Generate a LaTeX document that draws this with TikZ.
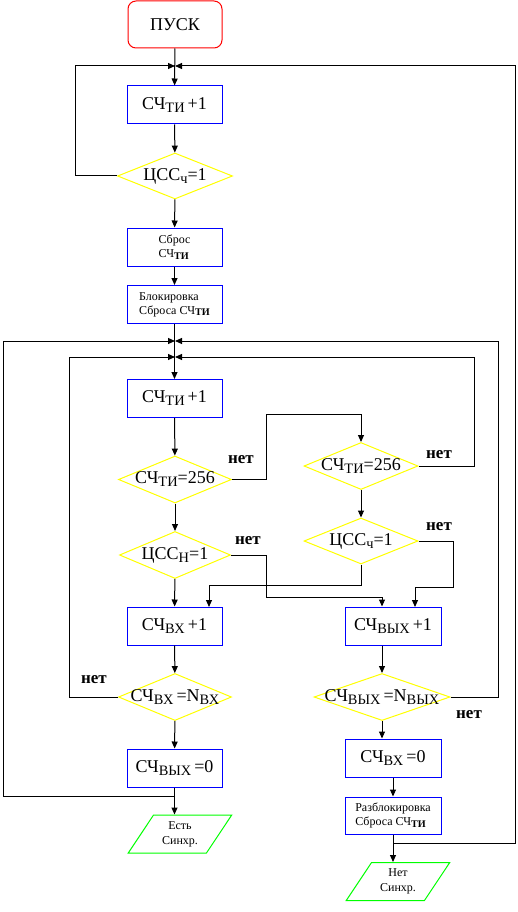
\documentclass[tikz,border=0pt]{standalone}
\usepackage{fontspec}
\setmainfont{Liberation Serif}
\usetikzlibrary{shapes.geometric,arrows.meta}
\newcommand\sbs[1]{\raisebox{-3pt}{\scalebox{0.8}{#1}}}
\newcommand\ssbs[1]{\raisebox{-1.5pt}{\scalebox{0.85}{\bfseries #1}}}
\definecolor{ublue}{RGB}{0,0,255}
\definecolor{ured}{RGB}{255,0,0}
\definecolor{uyellow}{RGB}{255,255,0}
\definecolor{ugreen}{RGB}{0,255,0}
\begin{document}
\begin{tikzpicture}[x=1pt,y=-1pt,
  font=\fontsize{18}{21}\selectfont,
  startbox/.style={draw=ured, line width=1pt, rounded corners=8pt, minimum width=94pt, minimum height=47pt, inner sep=0pt},
  proc/.style={draw=ublue, line width=1pt, minimum width=95pt, minimum height=38pt, inner sep=0pt},
  smallproc/.style={proc, font=\fontsize{12}{14}\selectfont, align=left},
  dec/.style={shape=diamond, draw=uyellow, line width=1pt, inner sep=0pt},
  io/.style={shape=trapezium, trapezium left angle=56, trapezium right angle=124, trapezium stretches=true, draw=ugreen, line width=1pt, minimum width=104pt, minimum height=38pt, inner sep=0pt, font=\fontsize{12}{15}\selectfont, align=center},
  nolabel/.style={inner sep=0pt, font=\fontsize{17}{20}\selectfont\bfseries},
  line/.style={draw=black, line width=1pt},
  arr/.style={line, -{Triangle[length=7pt,width=6pt]}}
]
\useasboundingbox (0,0) rectangle (517,912);

% nodes
\node[startbox] (start) at (175,24.5) {ПУСК};
\node[proc] (b1) at (174.5,105) {СЧ\sbs{ТИ}\,+1};
\node[dec, minimum width=115pt, minimum height=46pt, label={center:ЦСС\sbs{ч}=1}] (d1) at (175,176) {};
\node[smallproc] (b2) at (174.5,247) {Сброс\\СЧ\ssbs{ТИ}};
\node[smallproc] (b3) at (174.5,304.5) {Блокировка\\Сброса СЧ\ssbs{ТИ}};
\node[proc] (b4) at (174.5,398.5) {СЧ\sbs{ТИ}\,+1};
\node[dec, minimum width=113pt, minimum height=47pt, label={center:СЧ\sbs{ТИ}=256}] (d2) at (175,479.5) {};
\node[dec, minimum width=114pt, minimum height=47pt, label={center:СЧ\sbs{ТИ}=256}] (d3) at (361,466) {};
\node[dec, minimum width=111pt, minimum height=47pt, label={center:ЦСС\sbs{Н}=1}] (d4) at (175,555) {};
\node[dec, minimum width=114pt, minimum height=46pt, label={center:ЦСС\sbs{ч}=1}] (d5) at (361,541) {};
\node[proc] (b5) at (174.5,626) {СЧ\sbs{ВХ}\,+1};
\node[proc, minimum width=96pt] (b6) at (393,626) {СЧ\sbs{ВЫХ}\,+1};
\node[dec, minimum width=113pt, minimum height=47pt, label={center:СЧ\sbs{ВХ}\,=N\sbs{ВХ}}] (d6) at (175,697) {};
\node[dec, minimum width=136pt, minimum height=47pt, label={center:СЧ\sbs{ВЫХ}\,=N\sbs{ВЫХ}}] (d7) at (382,697) {};
\node[proc] (b7) at (174.5,768) {СЧ\sbs{ВЫХ}\,=0};
\node[proc, minimum width=96pt] (b8) at (393,758) {СЧ\sbs{ВХ}\,=0};
\node[smallproc, minimum width=96pt, minimum height=37pt] (b9) at (393,815.5) {Разблокировка\\Сброса СЧ\ssbs{ТИ}};
\node[io] (p1) at (180,834) {Есть\\Синхр.};
\node[io] (p2) at (398,881.5) {Нет\\Синхр.};

% labels
\node[nolabel] (n1) at (241,460) {нет};
\node[nolabel] (n2) at (439,455) {нет};
\node[nolabel] (n3) at (248,541) {нет};
\node[nolabel] (n4) at (439,527) {нет};
\node[nolabel] (n5) at (94,680) {нет};
\node[nolabel] (n6) at (469,715) {нет};

% merge points and junctions
\coordinate (m1) at (175,66);
\coordinate (m2) at (175,341);
\coordinate (m3) at (175,357);
\coordinate (j1) at (175,796);
\coordinate (j2) at (393,843);

% connectors
\draw[arr] (start) -- (b1);
\draw[arr] (b1) -- (d1);
\draw[arr] (d1) -- (b2);
\draw[arr] (b2) -- (b3);
\draw[arr] (b3) -- (b4);
\draw[arr] (b4) -- (d2);
\draw[arr] (d2) -- (d4);
\draw[arr] (d4) -- (b5);
\draw[arr] (b5) -- (d6);
\draw[arr] (d6) -- (b7);
\draw[arr] (b7) -- (b7.south |- p1.north);
\draw[arr] (d3) -- (d5);
\draw[arr] (b6.south -| d7.north) -- (d7.north);
\draw[arr] (d7.south) -- (d7.south |- b8.north);
\draw[arr] (b8) -- (b9);
\draw[arr] (b9.south) -- (b9.south |- p2.north);

\draw[arr] (d1.west) -- (75,176) -- (75,66) -- (m1);
\draw[arr] (j2) -- (515,843) -- (515,66) -- (m1);
\draw[arr] (j1) -- (3,796) -- (3,341) -- (m2);
\draw[arr] (d7.east) -- (498,697) -- (498,341) -- (m2);
\draw[arr] (d6.west) -- (69,697) -- (69,357) -- (m3);
\draw[arr] (d3.east) -- (474,466) -- (474,357) -- (m3);
\draw[arr] (d2.east) -- (266,479.5) -- (266,414) -- (361,414) -- (d3.north);
\draw[arr] (d4.east) -- (266,555) -- (266,597) -- (382,597) -- (b6.north -| d7.north);
\draw[arr] (d5.south) -- (361,585) -- (209,585) -- (209,607);
\draw[arr] (d5.east) -- (453,541) -- (453,587) -- (415,587) -- (415,607);
\end{tikzpicture}
\end{document}
